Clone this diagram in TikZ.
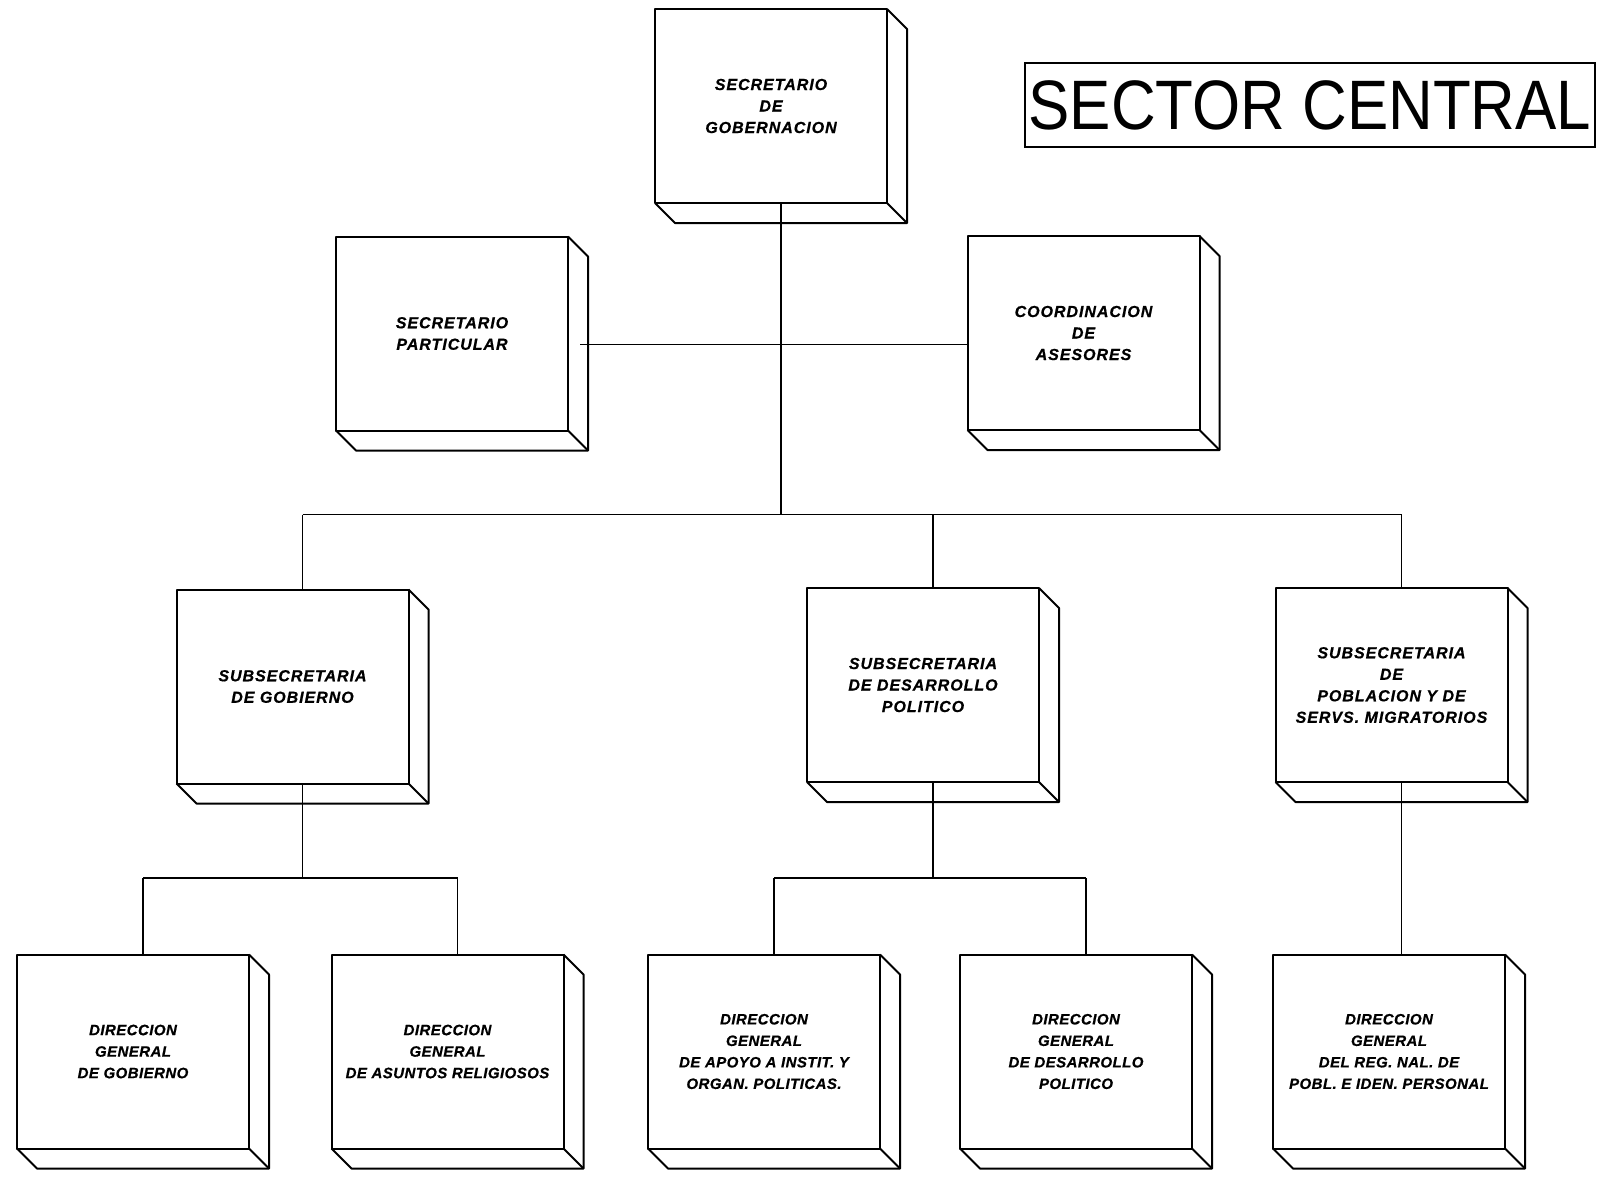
\documentclass[tikz,border=0pt]{standalone}
\usepackage{fontspec}
\usepackage{graphicx}
\usetikzlibrary{calc}
\setmainfont{Liberation Sans}
\newfontfamily\upfont[LetterSpace=6,FakeBold=0.6]{Liberation Sans}
\newfontfamily\lowfont[LetterSpace=3,FakeBold=0.6]{Liberation Sans}
\newfontfamily\titlefont{Liberation Sans}
\tikzset{
  boxline/.style={line width=2pt, line join=round},
  front/.style={boxline, draw, rectangle, outer sep=0pt, inner sep=2pt,
    minimum width=232pt, minimum height=194pt, align=center},
  upbox/.style={front, font=\upfont\bfseries\itshape\fontsize{16}{21.5}\selectfont},
  lowbox/.style={front, font=\lowfont\bfseries\itshape\fontsize{15}{21.5}\selectfont},
  conn/.style={line width=1.4pt},
  titlebox/.style={draw, line width=1.5pt, rectangle, outer sep=0pt, inner sep=0pt,
    minimum width=570pt, minimum height=84pt, font=\titlefont\fontsize{70}{70}\selectfont}
}
\newcommand\boxdepth[1]{%
  \draw[boxline] (#1.north east) -- ++(20,20) -- ($(#1.south east)+(20,20)$)
     -- ($(#1.south west)+(20,20)$) -- (#1.south west);
  \draw[boxline] (#1.south east) -- ++(20,20);}
\begin{document}
\begin{tikzpicture}[x=1pt,y=-1pt]
\useasboundingbox (0,0) rectangle (1607,1176);
\fill[white] (0,0) rectangle (1607,1176);

% title
\node[titlebox] (title) at (1310,105) {\scalebox{0.884}[1]{SECTOR CENTRAL}};

% level 1
\node[upbox] (sg) at (771,106) {SECRETARIO\\DE\\GOBERNACION};
% level 2
\node[upbox] (sp) at (452,333.5) {SECRETARIO\\PARTICULAR};
\node[upbox] (ca) at (1083.5,333) {COORDINACION\\DE\\ASESORES};
% level 3
\node[upbox] (subgob) at (292.5,686.5) {SUBSECRETARIA\\DE GOBIERNO};
\node[upbox] (subdes) at (923,685) {SUBSECRETARIA\\DE DESARROLLO\\POLITICO};
\node[upbox] (subpob) at (1391.5,685) {SUBSECRETARIA\\DE\\POBLACION Y DE\\SERVS. MIGRATORIOS};
% level 4
\node[lowbox] (dirgob) at (133,1051.5) {DIRECCION\\GENERAL\\DE GOBIERNO};
\node[lowbox] (dirar) at (447.5,1051.5) {DIRECCION\\GENERAL\\DE ASUNTOS RELIGIOSOS};
\node[lowbox] (dirapo) at (764,1051.5) {DIRECCION\\GENERAL\\DE APOYO A INSTIT. Y\\ORGAN. POLITICAS.};
\node[lowbox] (dirdp) at (1076,1051.5) {DIRECCION\\GENERAL\\DE DESARROLLO\\POLITICO};
\node[lowbox] (dirpob) at (1389,1051.5) {DIRECCION\\GENERAL\\DEL REG. NAL. DE\\POBL. E IDEN. PERSONAL};

\foreach \n in {sg,sp,ca,subgob,subdes,subpob,dirgob,dirar,dirapo,dirdp,dirpob}{\boxdepth{\n}}

% attachment points
\coordinate (busY) at (0,514.5);
\coordinate (subY) at (0,878);
\path ($(sg.south)+(10,0)$) coordinate (sgA);
\path ($(subgob.north)+(10,0)$) coordinate (gN);
\path ($(subdes.north)+(10,0)$) coordinate (dN);
\path ($(subpob.north)+(10,0)$) coordinate (pN);
\path ($(subgob.south)+(10,0)$) coordinate (gS);
\path ($(subdes.south)+(10,0)$) coordinate (dS);
\path ($(subpob.south)+(10,0)$) coordinate (pS);
\path ($(dirgob.north)+(10,0)$) coordinate (dgN);
\path ($(dirar.north)+(10,0)$) coordinate (daN);
\path ($(dirapo.north)+(10,0)$) coordinate (dpN);
\path ($(dirdp.north)+(10,0)$) coordinate (ddN);
\path ($(dirpob.north)+(10,0)$) coordinate (dbN);

% connectors
\draw[conn] (sgA) -- (sgA |- busY);
\draw[conn] ($(sp.east)+(12,11)$) coordinate (spA) -- (ca.west |- spA);
\draw[conn] (gN |- busY) -- (pN |- busY);
\draw[conn] (gN |- busY) -- (gN);
\draw[conn] (dN |- busY) -- (dN);
\draw[conn] (pN |- busY) -- (pN);

\draw[conn] (gS) -- (gS |- subY);
\draw[conn] (dgN |- subY) -- (daN |- subY);
\draw[conn] (dgN |- subY) -- (dgN);
\draw[conn] (daN |- subY) -- (daN);

\draw[conn] (dS) -- (dS |- subY);
\draw[conn] (dpN |- subY) -- (ddN |- subY);
\draw[conn] (dpN |- subY) -- (dpN);
\draw[conn] (ddN |- subY) -- (ddN);

\draw[conn] (pS) -- (pS |- dbN) -- (dbN);
\end{tikzpicture}
\end{document}
